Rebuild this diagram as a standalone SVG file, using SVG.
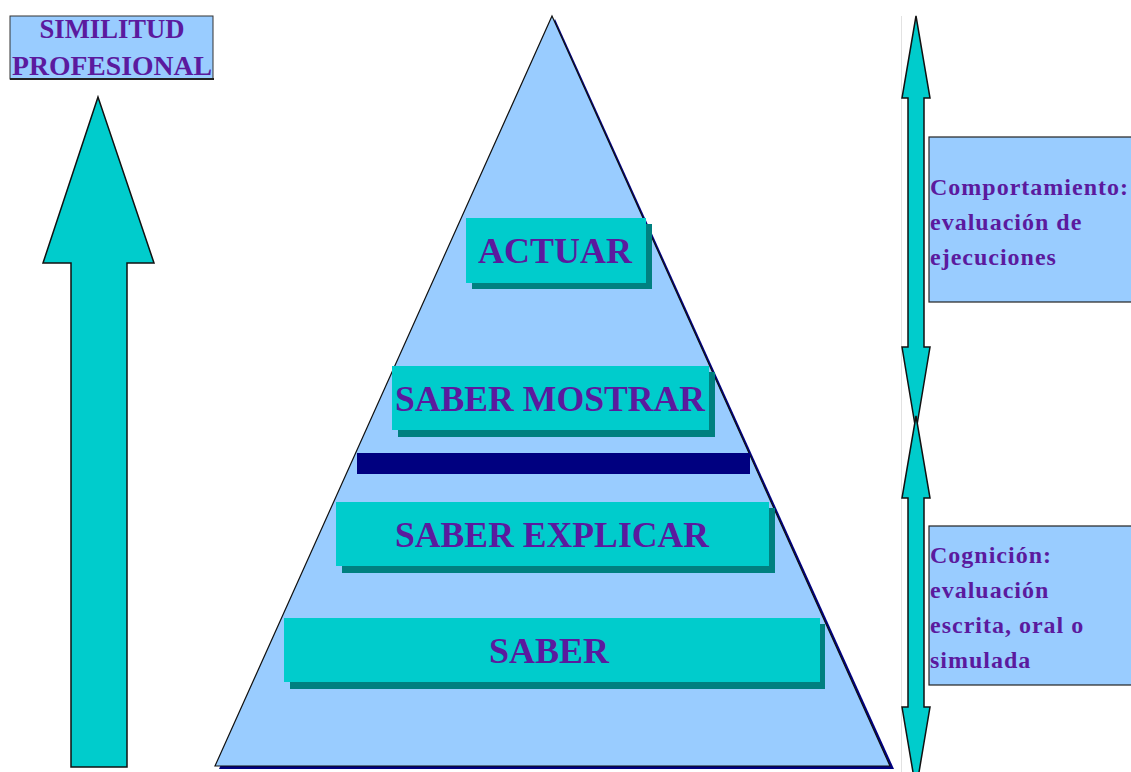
<svg xmlns="http://www.w3.org/2000/svg" width="1131" height="772" viewBox="0 0 1131 772">
<style>
.lbl{font-family:"Liberation Serif","Times New Roman",serif;font-weight:bold;fill:#5b1a9e}
.big{font-size:36px;text-anchor:middle}
.side{font-size:24px;letter-spacing:1px}
.tbox{fill:#00cccc}
.tsh{fill:#008080}
.lbox{fill:#99ccff;stroke:#222;stroke-width:1.2}
.arrow{fill:#00cccc;stroke:#111;stroke-width:1.5;stroke-linejoin:miter}
</style>
<rect width="1131" height="772" fill="#ffffff"/>
<line x1="901.5" y1="16" x2="901.5" y2="772" stroke="#e2e2e2" stroke-width="1"/>

<g id="pyramid">
  <polygon points="555,19 894,769 219,769" fill="#000080"/>
  <polygon points="552,16 890,766 215,766" fill="#99ccff" stroke="#111" stroke-width="1.2"/>
  <rect x="357" y="453" width="393" height="21" fill="#000080"/>
</g>

<g id="actuar">
  <rect class="tsh" x="472" y="224" width="180" height="65"/>
  <rect class="tbox" x="466" y="218" width="180" height="65"/>
  <text class="lbl big" x="555" y="263">ACTUAR</text>
</g>
<g id="saber-mostrar">
  <rect class="tsh" x="398" y="372" width="317" height="65"/>
  <rect class="tbox" x="392" y="366" width="317" height="64"/>
  <text class="lbl big" x="550" y="411" textLength="310" lengthAdjust="spacingAndGlyphs">SABER MOSTRAR</text>
</g>
<g id="saber-explicar">
  <rect class="tsh" x="342" y="508" width="433" height="65"/>
  <rect class="tbox" x="336" y="502" width="433" height="64"/>
  <text class="lbl big" x="552" y="547" textLength="314" lengthAdjust="spacingAndGlyphs">SABER EXPLICAR</text>
</g>
<g id="saber">
  <rect class="tsh" x="290" y="624" width="535" height="65"/>
  <rect class="tbox" x="284" y="618" width="536" height="64"/>
  <text class="lbl big" x="549" y="663">SABER</text>
</g>

<g id="similitud">
  <rect x="10" y="16" width="203" height="63" fill="#99ccff" stroke="#333" stroke-width="1"/>
  <line x1="10" y1="79" x2="214" y2="79" stroke="#222" stroke-width="2"/>
  <text class="lbl" font-size="28" text-anchor="middle" x="112" y="38" textLength="145" lengthAdjust="spacingAndGlyphs">SIMILITUD</text>
  <text class="lbl" font-size="28" text-anchor="middle" x="112" y="75" textLength="200" lengthAdjust="spacingAndGlyphs">PROFESIONAL</text>
</g>

<g id="comportamiento">
  <rect class="lbox" x="929" y="137" width="210" height="165"/>
  <text class="lbl side" x="930" y="195">Comportamiento:</text>
  <text class="lbl side" x="930" y="230">evaluación de</text>
  <text class="lbl side" x="930" y="265">ejecuciones</text>
</g>

<g id="cognicion">
  <rect class="lbox" x="929" y="526" width="210" height="159"/>
  <text class="lbl side" x="930" y="563">Cognición:</text>
  <text class="lbl side" x="930" y="598">evaluación</text>
  <text class="lbl side" x="930" y="633">escrita, oral o</text>
  <text class="lbl side" x="930" y="668">simulada</text>
</g>

<g id="connectors">
  <polygon class="arrow" points="98,97 43,263 71,263 71,767 127,767 127,263 154,263"/>
  <polygon class="arrow" points="916,16 902,98 908,98 908,347 902,347 916,431 930,347 924,347 924,98 930,98"/>
  <polygon class="arrow" points="916,416 902,498 908,498 908,707 902,707 916,790 930,707 924,707 924,498 930,498"/>
</g>
</svg>
